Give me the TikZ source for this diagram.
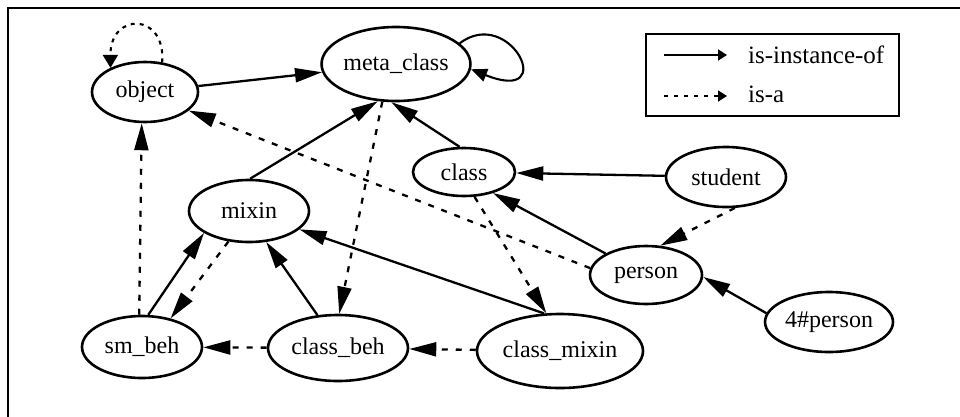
\documentclass[tikz,border=0pt]{standalone}
\usepackage{fontspec}
\setmainfont{Liberation Serif}
\usetikzlibrary{arrows.meta,shapes.geometric}

\tikzset{
  cls/.style={draw, ellipse, line width=2.6pt, inner sep=0pt,
    font=\fontsize{24}{28}\selectfont},
  inst/.style={line width=2.3pt, -{Triangle[length=27pt,width=14pt]}},
  isa/.style={line width=2.3pt, dash pattern=on 6pt off 8pt,
    -{Triangle[length=27pt,width=14pt]}},
  loopinst/.style={line width=2.1pt, -{Triangle[length=16pt,width=13pt]}},
  loopisa/.style={line width=2.1pt, dash pattern=on 4pt off 5pt,
    -{Triangle[length=13pt,width=15pt]}},
  legtext/.style={anchor=west, inner sep=0pt, font=\fontsize{25}{28}\selectfont},
  leginst/.style={line width=1.8pt, -{Triangle[length=9pt,width=11pt]}},
  legisa/.style={line width=1.8pt, dash pattern=on 4pt off 6pt,
    -{Triangle[length=9pt,width=11pt]}},
}

\begin{document}
\begin{tikzpicture}[x=1pt, y=-1pt]
\useasboundingbox (0,0) rectangle (960,416);
\fill[white] (0,0) rectangle (960,416);

% frame
\draw[line width=2.8pt] (8,417) -- (8,8) -- (961,8);

% classes
\node[cls, minimum width=106pt, minimum height=60pt] (object)     at (145,92)  {object};
\node[cls, minimum width=146pt, minimum height=74pt] (metaclass)  at (396,64)  {meta\_class};
\node[cls, minimum width=102pt, minimum height=48pt] (class)      at (464,172) {class};
\node[cls, minimum width=120pt, minimum height=60pt] (student)    at (726,177) {student};
\node[cls, minimum width=120pt, minimum height=62pt] (mixin)      at (249,211) {mixin};
\node[cls, minimum width=112pt, minimum height=58pt] (person)     at (646,275) {person};
\node[cls, minimum width=120pt, minimum height=62pt] (smbeh)      at (142,347) {sm\_beh};
\node[cls, minimum width=140pt, minimum height=66pt] (classbeh)   at (338,348) {class\_beh};
\node[cls, minimum width=166pt, minimum height=74pt] (classmixin) at (560,351) {class\_mixin};
\node[cls, minimum width=128pt, minimum height=60pt] (fourperson) at (829,322) {4\#person};

% is-instance-of
\draw[inst] (object) -- (metaclass);
\draw[loopinst] (metaclass.18) .. controls (510,5) and (560,105) .. (metaclass.-4);
\draw[inst] (mixin.88) -- (metaclass.244);
\draw[inst] (class.100) -- (metaclass.263);
\draw[inst] (student) -- (class);
\draw[inst] (person.152) -- (class.-36);
\draw[inst] (fourperson.172) -- (person.-2);
\draw[inst] (smbeh.79) -- (mixin.206);
\draw[inst] (classbeh.122) -- (mixin.-61);
\draw[inst] (classmixin.113) -- (mixin.-20);

% is-a
\draw[loopisa] (object.60) .. controls (166,12) and (110,12) .. (object.145);
\draw[isa] (smbeh.95) -- (object.-96);
\draw[isa] (person.173) -- (object.-23);
\draw[isa] (metaclass.250) -- (classbeh.88);
\draw[isa] (mixin.236) -- (smbeh.45);
\draw[isa] (classbeh) -- (smbeh);
\draw[isa] (classmixin) -- (classbeh);
\draw[isa] (class.-67) -- (classmixin.110);
\draw[isa] (student.-74) -- (person.64);

% legend
\node[draw, line width=2.2pt, minimum width=253pt, minimum height=82pt, inner sep=0pt]
  (legend) at (772.5,75) {};
\coordinate (la1) at (664,55);
\coordinate (lb1) at (727,55);
\coordinate (la2) at (664,96);
\coordinate (lb2) at (727,96);
\draw[leginst] (la1) -- (lb1);
\draw[legisa] (la2) -- (lb2);
\node[legtext] (linst) at (748,55) {is-instance-of};
\node[legtext] (lisa)  at (748,94) {is-a};
\end{tikzpicture}
\end{document}
